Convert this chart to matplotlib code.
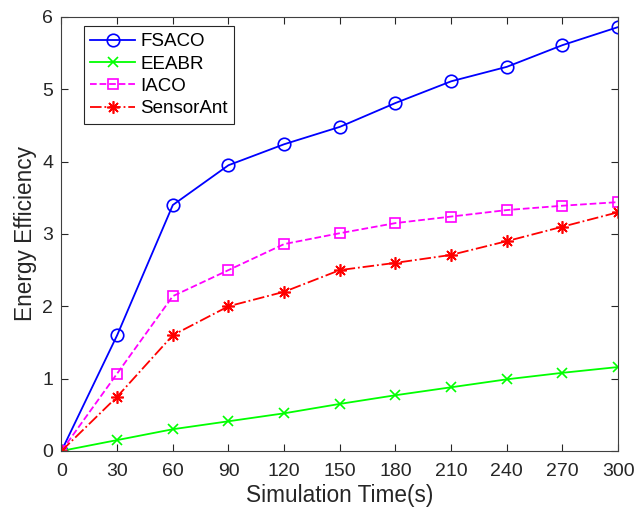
import numpy as np
import matplotlib
matplotlib.use("Agg")
import matplotlib.pyplot as plt

plt.rcParams['font.family'] = ['Liberation Sans', 'DejaVu Sans']

# temps de simulation (s)
time = [0, 30, 60, 90, 120, 150, 180, 210, 240, 270, 300]

fsaco = [0, 1.60, 3.40, 3.95, 4.24, 4.48, 4.81, 5.11, 5.31, 5.61, 5.86]
eeabr = [0, 0.15, 0.30, 0.41, 0.52, 0.65, 0.77, 0.88, 0.99, 1.08, 1.16]
iaco = [0, 1.07, 2.14, 2.50, 2.86, 3.01, 3.15, 3.24, 3.33, 3.39, 3.44]
sensorant = [0, 0.75, 1.60, 2.00, 2.20, 2.50, 2.60, 2.71, 2.90, 3.10, 3.30]

fig = plt.figure(figsize=(6.34, 5.13), dpi=100)
ax = fig.add_axes([0.097, 0.121, 0.878, 0.846])

# asterisque façon matlab (8 branches)
asterisk = (8, 2, 0)

ax.plot(time, fsaco, '-', marker='o', color='#0000ff', lw=1.3, ms=9, mfc='none', mew=1.2, label='FSACO')
ax.plot(time, eeabr, '-', marker='x', color='#00ff00', lw=1.3, ms=7, mew=1.2, label='EEABR')
ax.plot(time, iaco, '--', marker='s', color='#ff00ff', lw=1.3, ms=6.5, mfc='none', mew=1.2, label='IACO')
ax.plot(time, sensorant, '-.', marker=asterisk, color='#ff0000', lw=1.3, ms=9, mew=1.2, label='SensorAnt')

ax.set_xlim(0, 300)
ax.set_ylim(0, 6)
ax.set_xticks(time)
ax.set_yticks(range(0, 7))
ax.tick_params(direction='in', top=True, right=True, labelsize=14, length=5,
               color='#262626', labelcolor='#262626')
ax.tick_params(axis='x', pad=8.5)
ax.tick_params(axis='y', pad=6)
for s in ax.spines.values():
    s.set_color('#404040')
    s.set_linewidth(0.8)
ax.set_xlabel('Simulation Time(s)', fontsize=16.3, labelpad=3, color='#262626')
ax.set_ylabel('Energy Efficiency', fontsize=16.3, labelpad=4, color='#262626')

leg = ax.legend(loc='upper left', bbox_to_anchor=(0.04, 0.978), borderaxespad=0,
                fontsize=13.5, fancybox=False, edgecolor='#262626', framealpha=1,
                handlelength=2.4, handletextpad=0.25, labelspacing=0.28, borderpad=0.35)
leg.get_frame().set_linewidth(0.8)

fig.savefig('out.png', dpi=100)
